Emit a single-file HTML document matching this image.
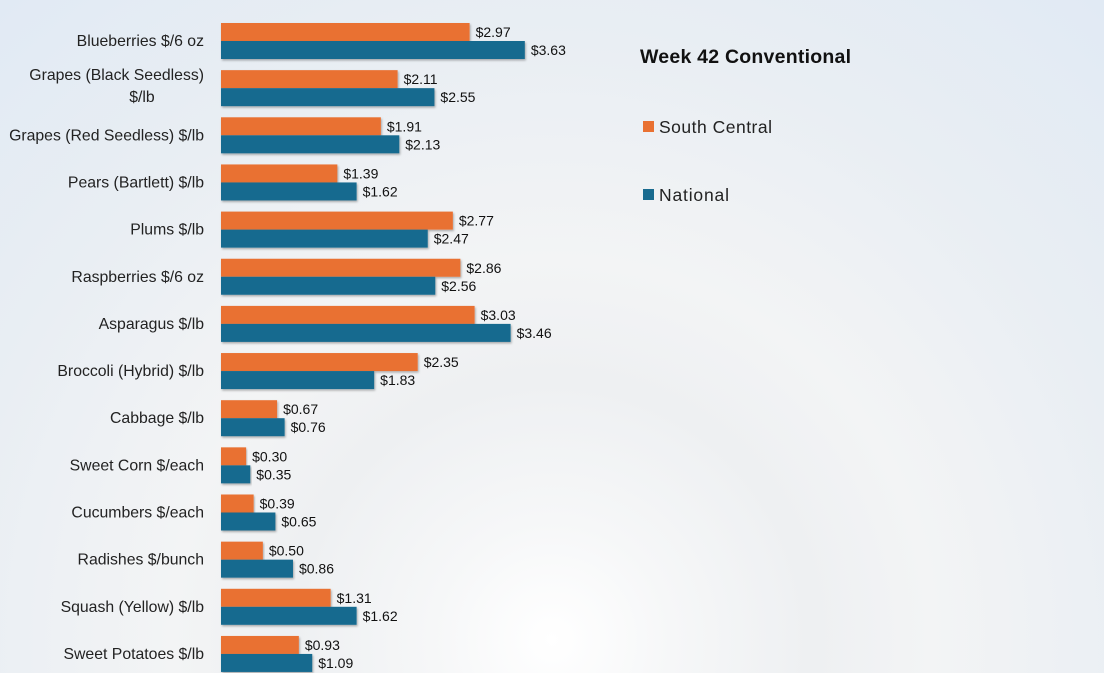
<!DOCTYPE html>
<html><head><meta charset="utf-8"><style>
html,body{margin:0;padding:0}
body{width:1104px;height:673px;overflow:hidden;font-family:"Liberation Sans",sans-serif;
background:radial-gradient(circle at 552px 640px,#ffffff 0px,#f6f7f8 120px,#eef0f2 260px,#f3f4f5 380px,#e9eef3 600px,#dfe9f4 900px);}
svg{position:absolute;left:0;top:0}
</style></head><body>
<svg id="chart" width="1104" height="673" xmlns="http://www.w3.org/2000/svg">
<defs><filter id="sh" x="-5%" y="-20%" width="110%" height="160%"><feDropShadow dx="1" dy="1.5" stdDeviation="1" flood-color="#000" flood-opacity="0.3"/></filter></defs>
<g id="bars"></g>
<text x="640" y="63" font-size="19.5" font-weight="bold" fill="#111" textLength="211">Week 42 Conventional</text>
<g><rect x="643" y="121" width="11" height="11" fill="#E97132"/><text x="659" y="133" font-size="17.5" fill="#222" textLength="113">South Central</text></g>
<g><rect x="643" y="189" width="11" height="11" fill="#196B8F"/><text x="659" y="201" font-size="17.5" fill="#222" textLength="70">National</text></g>
</svg>
<script>
const categories=["Blueberries $/6 oz","Grapes (Black Seedless)|$/lb","Grapes (Red Seedless) $/lb","Pears (Bartlett) $/lb","Plums $/lb","Raspberries $/6 oz","Asparagus $/lb","Broccoli (Hybrid) $/lb","Cabbage $/lb","Sweet Corn $/each","Cucumbers $/each","Radishes $/bunch","Squash (Yellow) $/lb","Sweet Potatoes $/lb"];
const southCentral=[2.97,2.11,1.91,1.39,2.77,2.86,3.03,2.35,0.67,0.30,0.39,0.50,1.31,0.93];
const national=[3.63,2.55,2.13,1.62,2.47,2.56,3.46,1.83,0.76,0.35,0.65,0.86,1.62,1.09];
const NS="http://www.w3.org/2000/svg";
const x0=221, pxPer=83.7, y0=23, pitch=47.15, bh=18;
const xScale=v=>x0+v*pxPer;
const yScale=i=>y0+i*pitch;
const g=document.getElementById('bars');
function mk(t,a){const e=document.createElementNS(NS,t);for(const k in a)e.setAttribute(k,a[k]);return e;}
categories.forEach((c,i)=>{
  const y=yScale(i);
  const lines=c.split('|');
  const lab=mk('text',{x:204,'text-anchor':'end','font-size':15.8,fill:'#222'});
  
  
  if(lines.length===1){lab.setAttribute('y',y+bh+5);lab.textContent=c;}
  else{lines.forEach((l,j)=>{const ts=mk('tspan',{x:j?142:204,y:y+10+j*22,'text-anchor':j?'middle':'end'});ts.textContent=l;lab.appendChild(ts);});}
  g.appendChild(lab);
  [[southCentral[i],'#E97132',y,'bar-south-central'],[national[i],'#196B8F',y+bh,'bar-national']].forEach(([v,col,yy,nm])=>{
    const r=mk('rect',{x:x0,y:yy,width:xScale(v)-x0,height:bh,fill:col,filter:'url(#sh)'});
    
    
    g.appendChild(r);
    const t=mk('text',{x:xScale(v)+6,y:yy+14,'font-size':14,fill:'#111'});
    
    
    t.textContent='$'+v.toFixed(2);
    g.appendChild(t);
  });
});
</script>
</body></html>
